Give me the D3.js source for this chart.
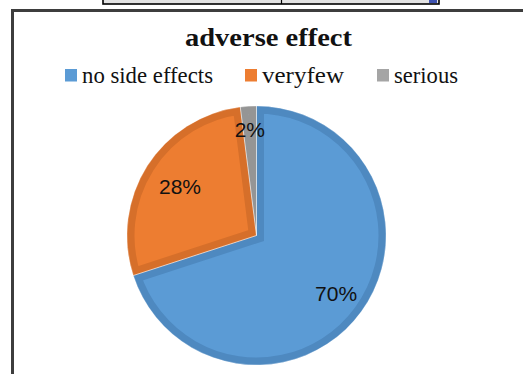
<!DOCTYPE html>
<html>
<head>
<meta charset="utf-8">
<script src="https://cdn.jsdelivr.net/npm/d3@7"></script>
<style>
  html, body { margin: 0; padding: 0; background: #fff; }
  svg { display: block; }
</style>
</head>
<body>
<svg id="chart" width="523" height="374"></svg>
<script>
// Share of patients by adverse effect reported
const categories = ["no side effects", "veryfew", "serious"];
const values = [70, 28, 2];
const colors = ["#5b9bd5", "#ed7d31", "#a5a5a5"];
const borderColors = ["#4e89c0", "#d66f2a", "#959595"];
const title = "adverse effect";

// label placement (fraction of radius) for each slice
const labelRadius = [0.76, 0.70, 0.82];

const W = 523, H = 374;
const svg = d3.select("#chart");

// fragment of the table sitting above the chart
const tableStrip = svg.append("g");
tableStrip.append("rect").attr("x", 103).attr("y", -2).attr("width", 336).attr("height", 6)
  .attr("fill", "#e2e2e2").attr("stroke", "#000").attr("stroke-width", 1.6);
tableStrip.append("line").attr("x1", 281.5).attr("x2", 281.5).attr("y1", 0).attr("y2", 4)
  .attr("stroke", "#000").attr("stroke-width", 1.2);
tableStrip.append("rect").attr("x", 429).attr("y", 0).attr("width", 8).attr("height", 3)
  .attr("fill", "#3e52b0");

// chart frame (continues past the right and bottom edges)
svg.append("path")
  .attr("d", `M12.5,${H + 2} L12.5,10.5 L${W + 2},10.5`)
  .attr("fill", "none").attr("stroke", "#3d3d3d").attr("stroke-width", 3);

// title
svg.append("text")
  .attr("x", 268.5).attr("y", 46)
  .attr("text-anchor", "middle")
  .attr("font-family", "'Liberation Serif', 'Times New Roman', serif")
  .attr("font-weight", "bold")
  .attr("font-size", 26)
  .attr("textLength", 167).attr("lengthAdjust", "spacingAndGlyphs")
  .attr("fill", "#111")
  .text(title);

// legend
const legendX = [65, 245, 377];
const legendW = [131, 82, 64];
const legend = svg.append("g");
categories.forEach((c, i) => {
  legend.append("rect")
    .attr("x", legendX[i]).attr("y", 69).attr("width", 12).attr("height", 12.5)
    .attr("fill", colors[i]);
  legend.append("text")
    .attr("x", legendX[i] + 17).attr("y", 82.5)
    .attr("font-family", "'Liberation Serif', 'Times New Roman', serif")
    .attr("font-size", 23)
    .attr("textLength", legendW[i]).attr("lengthAdjust", "spacingAndGlyphs")
    .attr("fill", "#111")
    .text(c);
});

// pie
const cx = 256.5, cy = 235.5, r = 129.5;
const pie = d3.pie().sort(null).value(d => d);
const arcs = pie(values);
const arc = d3.arc().innerRadius(0).outerRadius(r);

const g = svg.append("g").attr("transform", `translate(${cx},${cy})`);
const defs = svg.append("defs");
arcs.forEach((a, i) => {
  defs.append("clipPath").attr("id", "slice" + i)
    .append("path").attr("d", arc(a));
});

g.selectAll("path.slice")
  .data(arcs)
  .join("path")
  .attr("class", "slice")
  .attr("d", arc)
  .attr("fill", (d, i) => colors[i])
  .attr("stroke", (d, i) => borderColors[i])
  .attr("stroke-width", 15)
  .attr("stroke-linejoin", "miter")
  .attr("clip-path", (d, i) => `url(#slice${i})`);

// thin separators between slices
g.selectAll("path.sep")
  .data(arcs)
  .join("path")
  .attr("class", "sep")
  .attr("d", arc)
  .attr("fill", "none")
  .attr("stroke", "rgba(255,255,255,0.35)")
  .attr("stroke-width", 1);

// value labels
g.selectAll("text.val")
  .data(arcs)
  .join("text")
  .attr("class", "val")
  .attr("transform", (d, i) => {
    const lr = r * labelRadius[i];
    const [x, y] = d3.arc().innerRadius(lr).outerRadius(lr).centroid(d);
    return `translate(${x},${y})`;
  })
  .attr("text-anchor", "middle")
  .attr("dominant-baseline", "central")
  .attr("font-family", "'Liberation Sans', Arial, sans-serif")
  .attr("font-size", 21)
  .attr("fill", "#111")
  .text(d => d.data + "%");
</script>
</body>
</html>
